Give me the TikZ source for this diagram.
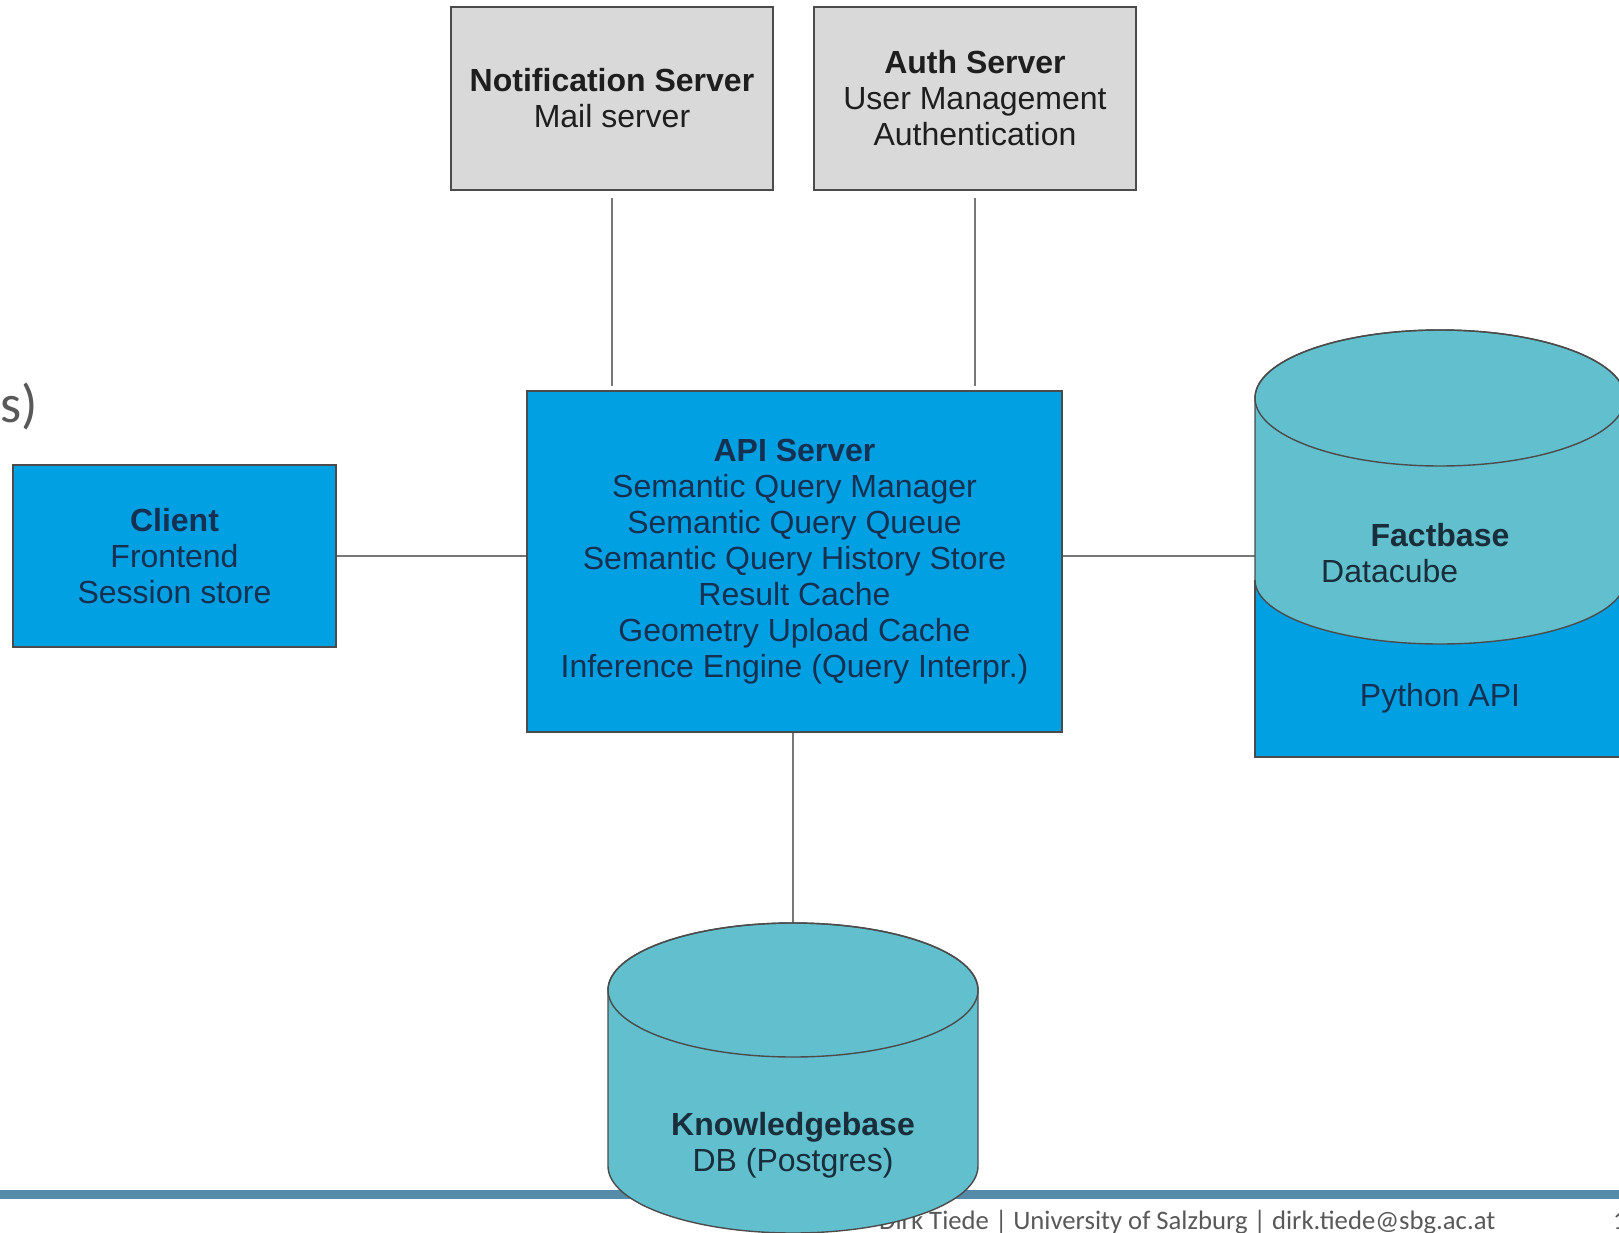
\documentclass[tikz,border=0pt]{standalone}
\usepackage{fontspec}
\setmainfont{Liberation Sans}
\newfontfamily\footfont{Carlito}
\definecolor{grayfill}{RGB}{217,217,217}
\definecolor{bluefill}{RGB}{0,160,226}
\definecolor{tealfill}{RGB}{98,192,206}
\definecolor{bordc}{RGB}{75,75,75}
\definecolor{linec}{RGB}{120,120,120}
\definecolor{grtext}{RGB}{30,30,30}
\definecolor{bltext}{RGB}{22,48,82}
\definecolor{tltext}{RGB}{25,45,58}
\definecolor{barc}{RGB}{85,138,168}
\definecolor{foottext}{RGB}{89,89,89}
\begin{document}
\begin{tikzpicture}[x=1pt,y=-1pt,
  border/.style={draw=bordc, line width=1.4pt},
  boxfont/.style={font=\fontsize{32}{36}\selectfont},
  graybox/.style={border, fill=grayfill, text=grtext, align=center, inner sep=0pt, boxfont},
  bluebox/.style={border, fill=bluefill, text=bltext, align=center, inner sep=0pt, boxfont},
  cyl/.style={border, fill=tealfill},
  link/.style={draw=linec, line width=1.6pt},
  lbl/.style={inner sep=0pt, boxfont, align=center, text=tltext},
  hold/.style={inner sep=0pt, outer sep=0pt},
  foot/.style={inner sep=0pt, text=foottext},
]
\useasboundingbox (0,0) rectangle (1619,1233);
\fill[white] (0,0) rectangle (1619,1233);

% left fragment of slide text
\node[foot, anchor=base east, font=\footfont\fontsize{54}{60}\selectfont] (frag) at (38,422) {s)};

% boxes
\node[graybox, minimum width=322pt, minimum height=183pt] (notif) at (612,98.5)
  {\textbf{Notification Server}\\Mail server};
\node[graybox, minimum width=322pt, minimum height=183pt] (auth) at (975,98.5)
  {\textbf{Auth Server}\\User Management\\Authentication};
\node[bluebox, minimum width=323pt, minimum height=182pt] (client) at (174.5,556)
  {\textbf{Client}\\Frontend\\Session store};
\node[bluebox, minimum width=535pt, minimum height=341pt] (api) at (794.5,561.5)
  {\textbf{API Server}\\Semantic Query Manager\\Semantic Query Queue\\Semantic Query History Store\\Result Cache\\Geometry Upload Cache\\Inference Engine (Query Interpr.)};

% holders for the cylinders
\node[hold, minimum width=370pt, minimum height=427pt] (fact) at (1440,543.5) {};
\node[hold, minimum width=370pt, minimum height=316pt] (kb) at (793,1081) {};

% connectors
\draw[link, shorten <=7pt, shorten >=4pt] (notif.south) -- (notif.south |- api.north);
\draw[link, shorten <=7pt, shorten >=4pt] (auth.south) -- (auth.south |- api.north);
\draw[link] (client.east) -- (client.east -| api.west);
\draw[link] (api.east |- client.east) -- (client.east -| fact.west);
\draw[link] (kb.north |- api.south) -- (kb.north);

% Factbase cylinder
\fill[bluefill] (1255,580) rectangle (1630,757);
\draw[border] (1255,580) -- (1255,757) -- (1630,757);
\filldraw[cyl] (1255,398) -- (1255,580)
  arc[start angle=180, end angle=360, x radius=185pt, y radius=64pt]
  -- (1625,398)
  arc[start angle=0, end angle=180, x radius=185pt, y radius=68pt] -- cycle;
\draw[border] (1440,398) ellipse[x radius=185pt, y radius=68pt];
\node[lbl] (factT) at (1440,535) {\textbf{Factbase}};
\node[lbl, anchor=west] (factD) at (1321,571) {Datacube};
\node[lbl, text=bltext] (factP) at (1440,698) {Python API};

% footer
\fill[barc] (0,1190) rectangle (1619,1199);
\node[foot, anchor=base west, font=\footfont\fontsize{26.7}{30}\selectfont] (footer) at (879,1229)
  {Dirk Tiede | University of Salzburg | dirk.tiede@sbg.ac.at};
\node[foot, anchor=base west, font=\footfont\fontsize{26.7}{30}\selectfont] (page) at (1613,1229) {1};

% Knowledgebase cylinder (on top of footer)
\filldraw[cyl] (608,990) -- (608,1166)
  arc[start angle=180, end angle=360, x radius=185pt, y radius=67pt]
  -- (978,990)
  arc[start angle=0, end angle=180, x radius=185pt, y radius=67pt] -- cycle;
\draw[border] (793,990) ellipse[x radius=185pt, y radius=67pt];
\node[lbl] (kbT) at (793,1145.5) {\textbf{Knowledgebase}\\DB (Postgres)};
\end{tikzpicture}
\end{document}
